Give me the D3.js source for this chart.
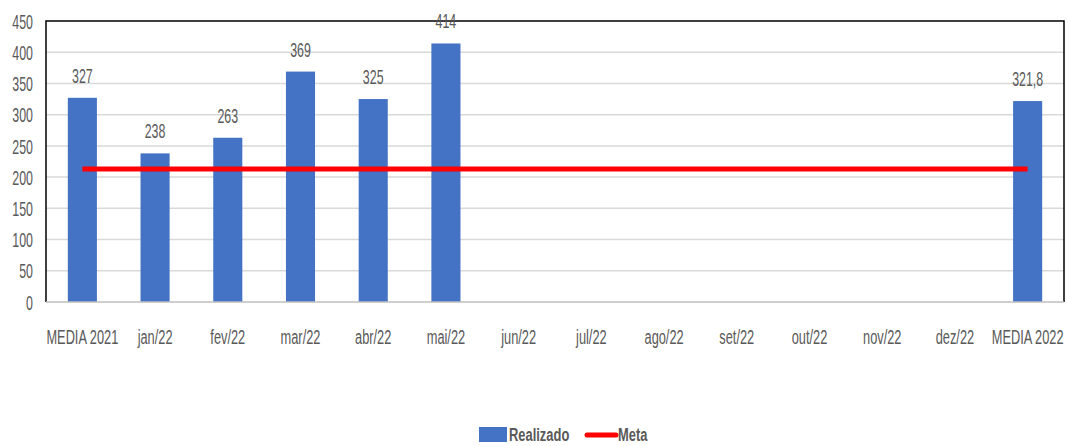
<!DOCTYPE html>
<html><head><meta charset="utf-8">
<script src="https://cdn.jsdelivr.net/npm/d3@7"></script>
<style>
body{margin:0;background:#fff;}
text{font-family:"Liberation Sans",Arial,sans-serif;fill:#595959;}
</style></head>
<body><svg id="c" width="1067" height="446"></svg>
<script>
const categories=["MEDIA 2021","jan/22","fev/22","mar/22","abr/22","mai/22","jun/22","jul/22","ago/22","set/22","out/22","nov/22","dez/22","MEDIA 2022"];
const realizado=[327,238,263,369,325,414,null,null,null,null,null,null,null,321.8];
const realizadoLabels=["327","238","263","369","325","414","","","","","","","","321,8"];
const meta=[213,213,213,213,213,213,213,213,213,213,213,213,213,213];
const yTicks=[0,50,100,150,200,250,300,350,400,450];

const svg=d3.select("#c");
const L=46,R=1064,T=21,B=302;
const x=d3.scaleBand().domain(categories).range([L,R]).paddingInner(0.6).paddingOuter(0.3);
const y=d3.scaleLinear().domain([0,450]).range([B,T]);

// gridlines
svg.append("g").selectAll("line").data(yTicks.filter(d=>d>0&&d<450)).join("line")
 .attr("x1",L).attr("x2",R).attr("y1",d=>y(d)).attr("y2",d=>y(d))
 .attr("stroke","#d9d9d9").attr("stroke-width",1.5);

// y axis labels
const ys=0.62;
const ya=svg.append("g").attr("transform",`translate(${L},0)`).call(d3.axisLeft(y).tickValues(yTicks).tickSize(0));
ya.select(".domain").remove();
ya.selectAll("text").style("font-size","20px").attr("fill","#595959").attr("font-family",null)
 .attr("x",-13/ys).attr("dy","0.36em").attr("transform",`scale(${ys},1)`);

// bars
const data=categories.map((c,i)=>({c,v:realizado[i],l:realizadoLabels[i],m:meta[i]}));
svg.append("g").selectAll("rect").data(data.filter(d=>d.v!=null)).join("rect")
 .attr("x",d=>x(d.c)).attr("width",x.bandwidth()).attr("y",d=>y(d.v)).attr("height",d=>B-y(d.v))
 .attr("fill","#4472c4");

// border
svg.append("path").attr("d",`M${L},${B}V${T}H${R}V${B}`).attr("fill","none").attr("stroke","#000").attr("stroke-width",1.5);
svg.append("line").attr("x1",L).attr("x2",R).attr("y1",B).attr("y2",B).attr("stroke","#bfbfbf").attr("stroke-width",1.5);

// x labels
const xs=0.64;
const xa=svg.append("g").attr("transform",`translate(0,${B})`).call(d3.axisBottom(x).tickSize(0));
xa.select(".domain").remove();
xa.selectAll("text").style("font-size","20px").attr("fill","#595959").attr("font-family",null)
 .attr("y",42).attr("dy",0).attr("transform",`scale(${xs},1)`);

// meta line
const cx=d=>x(d.c)+x.bandwidth()/2;
svg.append("path").datum(data).attr("d",d3.line().x(cx).y(d=>y(d.m)))
 .attr("fill","none").attr("stroke","#ff0000").attr("stroke-width",5);

// value labels
svg.append("g").selectAll("text").data(data.filter(d=>d.v!=null)).join("text")
 .attr("transform",d=>`translate(${cx(d)},${y(d.v)-15}) scale(0.62,1)`).attr("text-anchor","middle")
 .style("font-size","20px").text(d=>d.l);

// legend
const lg=svg.append("g");
lg.append("rect").attr("x",479).attr("y",427).attr("width",28).attr("height",15).attr("fill","#4472c4");
lg.append("text").attr("transform","translate(509,441) scale(0.68,1)").style("font-size","19px").style("font-weight","bold").text("Realizado");
lg.append("line").attr("x1",587).attr("x2",616).attr("y1",435).attr("y2",435).attr("stroke","#ff0000").attr("stroke-width",5).attr("stroke-linecap","round");
lg.append("text").attr("transform","translate(618,441) scale(0.68,1)").style("font-size","19px").style("font-weight","bold").text("Meta");
</script></body></html>
